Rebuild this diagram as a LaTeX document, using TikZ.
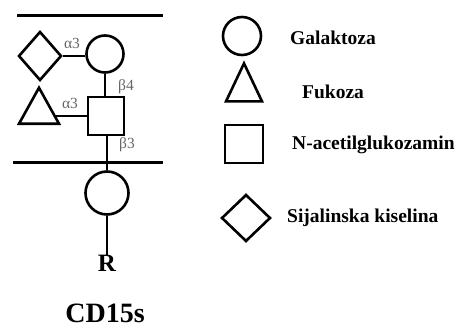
\documentclass[tikz,border=0pt]{standalone}
\usepackage{fontspec}
\setmainfont{Liberation Serif}
\usetikzlibrary{shapes.geometric}
\pgfdeclarelayer{background}
\pgfsetlayers{background,main}
\begin{document}
\begin{tikzpicture}[x=1pt,y=-1pt,
  sym/.style={draw=black,line width=2.6pt,fill=white,inner sep=0pt},
  gal/.style={sym,circle},
  glc/.style={sym,rectangle},
  sia/.style={sym,diamond},
  fuc/.style={sym,isosceles triangle,isosceles triangle stretches,shape border rotate=90},
  link/.style={line width=2.6pt},
  mem/.style={line width=3pt},
  lbl/.style={font=\fontsize{15.5}{16}\selectfont,text=black!60,inner sep=0pt},
  leg/.style={font=\fontsize{19.5}{20}\selectfont\bfseries,anchor=west,inner sep=0pt}]
\useasboundingbox (0,0) rectangle (457,329);
% membrane lines
\coordinate (t1) at (17,16); \coordinate (t2) at (163,16);
\coordinate (b1) at (13,162); \coordinate (b2) at (163,162);
\draw[mem] (t1) -- (t2);
\draw[mem] (b1) -- (b2);
% structure
\node[sia,minimum width=43pt,minimum height=49pt] (sia1) at (40,56) {};
\node[gal,minimum width=37pt,minimum height=37pt] (gal1) at (105,54) {};
\node[glc,minimum width=36pt,minimum height=38pt] (glc1) at (106,116) {};
\node[fuc,minimum width=40pt,minimum height=36pt] (fuc1) at (39,112) {};
\node[gal,minimum width=40pt,minimum height=43pt] (gal2) at (107,193) {};
\node[font=\fontsize{25}{25}\selectfont\bfseries,inner sep=0pt] (R) at (107,263) {R};
\node[font=\fontsize{28}{28}\selectfont\bfseries,inner sep=0pt] (cd) at (105,313) {CD15s};
\begin{pgfonlayer}{background}
\draw[link] (sia1.east) -- (sia1.east -| gal1.west);
\draw[link] (gal1.south) -- (gal1.south |- glc1.north);
\draw[link] (glc1.west) -- (fuc1.center |- glc1.west);
\draw[link] (glc1.south) -- (glc1.south -| gal2.north) -- (gal2.north);
\draw[link] (gal2.south) -- (R.north);
\end{pgfonlayer}
\node[lbl] (a1) at (72,43) {α3};
\node[lbl] (b4) at (126,87) {β4};
\node[lbl] (a2) at (70,103) {α3};
\node[lbl] (b3) at (127,145) {β3};
% legend
\node[gal,minimum width=38pt,minimum height=38pt] (lgal) at (242,36) {};
\node[fuc,minimum width=36pt,minimum height=38pt] (lfuc) at (244,90) {};
\node[glc,minimum width=38pt,minimum height=38pt] (lglc) at (244,144) {};
\node[sia,minimum width=49pt,minimum height=47pt] (lsia) at (246,218) {};
\node[leg] (tgal) at (290,38) {Galaktoza};
\node[leg] (tfuc) at (302,92) {Fukoza};
\node[leg] (tglc) at (292,145) {N-acetilglukozamin};
\node[leg] (tsia) at (287,218) {Sijalinska kiselina};
\end{tikzpicture}
\end{document}
